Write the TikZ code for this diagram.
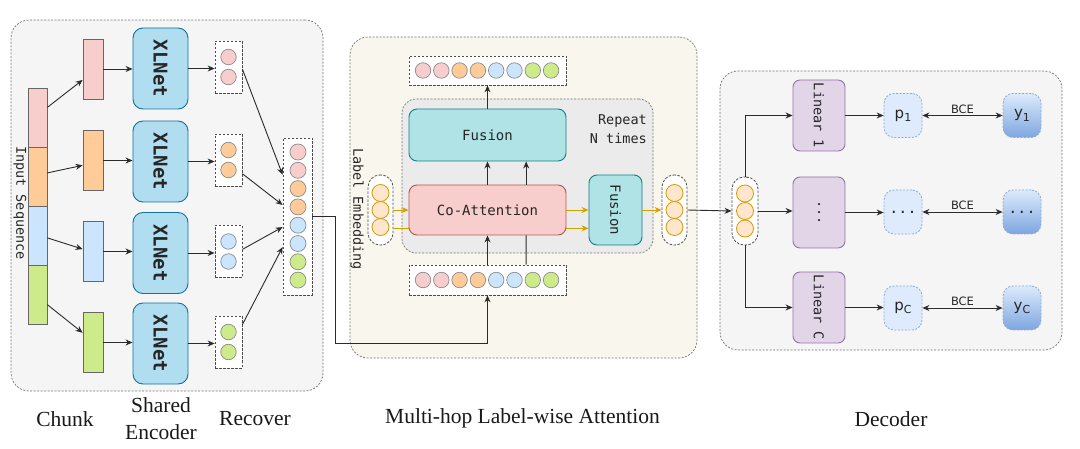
\documentclass[tikz,border=0pt]{standalone}
\usepackage{fontspec}
\setmainfont{Liberation Serif}
\newfontfamily\monof{DejaVu Sans Mono}
\newfontfamily\sansf{DejaVu Sans}
\usetikzlibrary{arrows.meta,calc}
\definecolor{cpink}{HTML}{F8CECC}
\definecolor{corange}{HTML}{FFCC99}
\definecolor{cblue}{HTML}{CCE5FF}
\definecolor{cgreen}{HTML}{CDEB8B}
\definecolor{xlfill}{HTML}{B1DDF0}
\definecolor{xldraw}{HTML}{10739E}
\definecolor{panelgray}{HTML}{F5F5F5}
\definecolor{panelcream}{HTML}{F9F7ED}
\definecolor{repgray}{HTML}{EBEBEB}
\definecolor{fusfill}{HTML}{B0E3E6}
\definecolor{fusdraw}{HTML}{0E8088}
\definecolor{cadraw}{HTML}{B85450}
\definecolor{lefill}{HTML}{FFE6CC}
\definecolor{ledraw}{HTML}{D79B00}
\definecolor{linfill}{HTML}{E1D5E7}
\definecolor{lindraw}{HTML}{9673A6}
\definecolor{pfill}{HTML}{DDEBFC}
\definecolor{pdraw}{HTML}{8FAAD3}
\definecolor{ybot}{HTML}{7EA6E0}
\definecolor{arrowc}{HTML}{2B2B2B}
\definecolor{orarrow}{HTML}{D6A100}
\newcommand{\mysub}[1]{\raisebox{-0.22em}{\fontsize{11}{11}\selectfont #1}}
\begin{document}
\begin{tikzpicture}[x=1pt,y=-1pt,
  panel/.style={draw=black!55, dash pattern=on 2pt off 1.5pt, line width=0.7pt, rounded corners=18pt, inner sep=0pt},
  dbox/.style={draw=black!70, dash pattern=on 2.5pt off 1.5pt, line width=0.8pt, fill=white, inner sep=0pt},
  pill/.style={dbox, rounded corners=12pt},
  tok/.style={circle, draw=black!45, line width=0.7pt, minimum size=15.5pt, inner sep=0pt},
  ltok/.style={circle, draw=ledraw, fill=lefill, line width=0.8pt, minimum size=17pt, inner sep=0pt},
  seg/.style={draw=black!60, line width=0.8pt, minimum width=19pt, minimum height=59pt, inner sep=0pt},
  chunkbox/.style={seg, minimum width=20pt, minimum height=60pt},
  xl/.style={draw=xldraw, fill=xlfill, line width=0.9pt, rounded corners=10pt, minimum width=55pt, minimum height=81pt, inner sep=0pt, font=\monof\bfseries\fontsize{19}{19}\selectfont, text=black!85},
  mono/.style={font=\monof\fontsize{13.5}{19}\selectfont, text=black!85, inner sep=0pt},
  fus/.style={draw=fusdraw, fill=fusfill, line width=0.9pt, rounded corners=8pt, inner sep=0pt, font=\monof\fontsize{14}{14}\selectfont, text=black!85},
  coatt/.style={fus, draw=cadraw, fill=cpink},
  lin/.style={draw=lindraw, fill=linfill, line width=0.9pt, rounded corners=7pt, minimum width=52pt, minimum height=71pt, inner sep=0pt, font=\monof\fontsize{13.5}{13.5}\selectfont, text=black!85},
  pn/.style={draw=pdraw, dash pattern=on 2pt off 1.5pt, fill=pfill, line width=0.8pt, rounded corners=10pt, minimum width=38pt, minimum height=44pt, inner sep=0pt, font=\sansf\fontsize{15}{15}\selectfont, text=black!85},
  yn/.style={pn, top color=pfill, bottom color=ybot},
  arr/.style={-{Stealth[length=7pt,width=6pt]}, line width=0.9pt, draw=arrowc},
  plain/.style={line width=0.9pt, draw=arrowc},
  oarr/.style={arr, draw=orarrow},
  oline/.style={plain, draw=orarrow},
  darr/.style={{Stealth[length=7pt,width=6pt]}-{Stealth[length=7pt,width=6pt]}, line width=0.9pt, draw=arrowc},
  bce/.style={font=\sansf\fontsize{11.5}{11.5}\selectfont, text=black!85, inner sep=1.5pt},
  lab/.style={font=\fontsize{21.5}{27}\selectfont, text=black!90, inner sep=0pt}
]
\useasboundingbox (0,0) rectangle (1080,449);

% ---------- panels ----------
\node[panel, fill=panelgray, minimum width=312pt, minimum height=371pt] (P1) at (167,205.5) {};
\node[panel, fill=panelcream, minimum width=347pt, minimum height=321pt] (P2) at (523.5,197.5) {};
\node[panel, fill=panelgray, minimum width=342pt, minimum height=279pt] (P3) at (891,210.5) {};

% ---------- left panel ----------
\node[seg, fill=cpink]   (s1) at (37.5,117.5) {};
\node[seg, fill=corange] (s2) at (37.5,176.5) {};
\node[seg, fill=cblue]   (s3) at (37.5,235.5) {};
\node[seg, fill=cgreen]  (s4) at (37.5,294.5) {};
\node[mono] (insq) at (20,203) {\rotatebox{-90}{Input Sequence}};

\node[chunkbox, fill=cpink]   (c1) at (93,69) {};
\node[chunkbox, fill=corange] (c2) at (93,160.5) {};
\node[chunkbox, fill=cblue]   (c3) at (93,251.5) {};
\node[chunkbox, fill=cgreen]  (c4) at (93,342.5) {};

\draw[arr] ($(s1.north east)!0.33!(s1.south east)$) -- ($(c1.north west)!0.68!(c1.south west)$);
\draw[arr] ($(s2.north east)!0.44!(s2.south east)$) -- ($(c2.north west)!0.58!(c2.south west)$);
\draw[arr] ($(s3.north east)!0.54!(s3.south east)$) -- ($(c3.north west)!0.46!(c3.south west)$);
\draw[arr] ($(s4.north east)!0.67!(s4.south east)$) -- ($(c4.north west)!0.34!(c4.south west)$);

\node[xl] (x1) at (160.5,68.5) {\rotatebox{-90}{XLNet}};
\node[xl] (x2) at (160.5,161.5) {\rotatebox{-90}{XLNet}};
\node[xl] (x3) at (160.5,253) {\rotatebox{-90}{XLNet}};
\node[xl] (x4) at (160.5,343.5) {\rotatebox{-90}{XLNet}};

\foreach \i in {1,...,4} {\draw[arr] (c\i.east) -- (c\i.east -| x\i.west);}

\foreach \i/\y/\c in {1/67/cpink, 2/160/corange, 3/251.5/cblue, 4/342/cgreen} {
  \node[dbox, minimum width=27pt, minimum height=52pt] (r\i) at (228.5,\y) {};
  \node[tok, fill=\c] (r\i a) at (228.5,\y-10) {};
  \node[tok, fill=\c] (r\i b) at (228.5,\y+10) {};
  \draw[arr] (x\i.east) -- (x\i.east -| r\i.west);
}

\node[dbox, minimum width=29pt, minimum height=157pt] (B) at (297.5,216.5) {};
\foreach \c [count=\i] in {cpink,cpink,corange,corange,cblue,cblue,cgreen,cgreen} {
  \node[tok, minimum size=16pt, fill=\c] (b\i) at (298,{133.7+18.3*\i}) {};
}
\draw[arr] ($(r1.north east)!0.54!(r1.south east)$) -- ($(B.north west)!0.236!(B.south west)$);
\draw[arr] ($(r2.north east)!0.76!(r2.south east)$) -- ($(B.north west)!0.427!(B.south west)$);
\draw[arr] ($(r3.north east)!0.46!(r3.south east)$) -- ($(B.north west)!0.567!(B.south west)$);
\draw[arr] ($(r4.north east)!0.17!(r4.south east)$) -- ($(B.north west)!0.694!(B.south west)$);

% ---------- middle panel ----------
\node[draw=black!55, dash pattern=on 2pt off 1.5pt, line width=0.7pt, rounded corners=14pt, fill=repgray, minimum width=251pt, minimum height=154pt, inner sep=0pt] (R) at (527.5,176) {};
\node[mono, align=right, anchor=east] (rep) at (647,129.5) {Repeat\\N times};

\node[dbox, minimum width=157pt, minimum height=29pt] (T) at (487.5,70.5) {};
\node[dbox, minimum width=157pt, minimum height=30pt] (L) at (487.5,280) {};
\foreach \c [count=\i] in {cpink,cpink,corange,corange,cblue,cblue,cgreen,cgreen} {
  \node[tok, fill=\c] (t\i) at ({404.7+18.3*\i},70.5) {};
  \node[tok, fill=\c] (l\i) at ({404.7+18.3*\i},280) {};
}

\node[fus, minimum width=157pt, minimum height=52pt] (F1) at (487.5,135) {Fusion};
\node[coatt, minimum width=157pt, minimum height=50pt] (CA) at (487.5,210) {Co-Attention};
\node[fus, minimum width=53pt, minimum height=70pt] (F2) at (615.5,210) {\rotatebox{-90}{Fusion}};

\node[pill, minimum width=25pt, minimum height=70pt] (LE) at (380.5,210) {};
\node[ltok] (le1) at (380.5,193) {};
\node[ltok] (le2) at (380.5,210) {};
\node[ltok] (le3) at (380.5,227) {};
\node[mono] (letext) at (357,209) {\rotatebox{-90}{Label Embedding}};

\node[pill, minimum width=25pt, minimum height=70pt] (RE) at (674.5,210) {};
\node[ltok] (re1) at (674.5,193) {};
\node[ltok] (re2) at (674.5,210) {};
\node[ltok] (re3) at (674.5,227) {};

\draw[arr] (CA.north) -- (F1.south);
\draw[arr] ($(CA.north west)!0.745!(CA.north east)$) -- ($(F1.south west)!0.745!(F1.south east)$);
\draw[arr] (F1.north) -- (T.south);
\draw[arr] (L.north) -- (CA.south);
\draw[plain] ($(L.north west)!0.745!(L.north east)$) -- ($(CA.south west)!0.745!(CA.south east)$);

\coordinate (le2r) at ($(LE.north east)!0.757!(LE.south east)$);
\coordinate (ca2r) at ($(CA.north east)!0.86!(CA.south east)$);
\draw[oarr] (LE.east) -- (CA.west);
\draw[oline] (le2r) -- (le2r -| CA.west);
\draw[oarr] (CA.east) -- (F2.west);
\draw[oarr] (ca2r) -- (ca2r -| F2.west);
\draw[oarr] (F2.east) -- (RE.west);

% connector from left panel to lower tokens
\coordinate (k1) at (335,343);
\draw[arr] (B.east) -| (k1) -| (L.south);

% ---------- decoder ----------
\node[pill, minimum width=26pt, minimum height=68pt] (DE) at (745,211) {};
\node[ltok] (de1) at (745,193.5) {};
\node[ltok] (de2) at (745,211) {};
\node[ltok] (de3) at (745,228.5) {};
\draw[arr] (RE.east) -- (DE.west);

\node[lin] (L1) at (819,115.5) {\rotatebox{-90}{Linear 1}};
\node[lin] (Lm) at (819,212.5) {\rotatebox{-90}{...}};
\node[lin] (LC) at (819,307.5) {\rotatebox{-90}{Linear C}};

\node[pn] (p1) at (903,115.5) {p\mysub{1}};
\node[pn, font=\monof\fontsize{15}{15}\selectfont] (pm) at (903,212) {...};
\node[pn] (pc) at (903,308) {p\mysub{C}};
\node[yn] (y1) at (1022,115.5) {y\mysub{1}};
\node[yn, font=\monof\fontsize{15}{15}\selectfont] (ym) at (1022,212) {...};
\node[yn] (yc) at (1022,308) {y\mysub{C}};

\draw[arr] (DE.north) |- (L1.west);
\draw[arr] (DE.east) -- (DE.east -| Lm.west);
\draw[arr] (DE.south) |- (LC.west);

\draw[arr] (L1.east) -- (L1.east -| p1.west);
\draw[arr] (Lm.east) -- (Lm.east -| pm.west);
\draw[arr] (LC.east) -- (LC.east -| pc.west);

\draw[darr] (p1.east) -- node[above, bce] {BCE} (y1.west);
\draw[darr] (pm.east) -- node[above, bce] {BCE} (ym.west);
\draw[darr] (pc.east) -- node[above, bce] {BCE} (yc.west);

% ---------- bottom labels ----------
\node[lab] (lchunk) at (65,419) {Chunk};
\node[lab, align=center] (lshared) at (161,418.5) {Shared\\Encoder};
\node[lab] (lrec) at (255,419) {Recover};
\node[lab] (lmulti) at (522.5,418) {Multi-hop Label-wise Attention};
\node[lab] (ldec) at (891,419) {Decoder};
\end{tikzpicture}
\end{document}
